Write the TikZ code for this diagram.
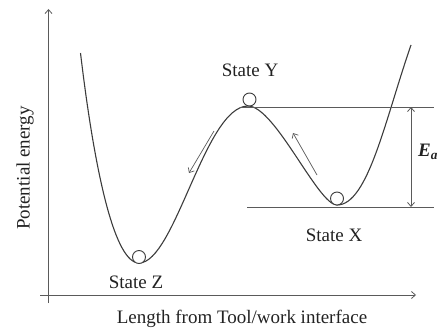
\documentclass[tikz,border=0pt]{standalone}
\usepackage{fontspec}
\setmainfont{Liberation Serif}
\usepackage{tikz}
\usetikzlibrary{arrows.meta}
\usepackage{xcolor}
\definecolor{ink}{HTML}{222222}
\definecolor{curve}{HTML}{3C3C3C}
\definecolor{rule}{HTML}{5A5A5A}

\begin{document}
\begin{tikzpicture}[x=1pt, y=-1pt, >={Straight Barb[length=4pt,width=7pt]},
    font=\fontsize{19}{22}\selectfont, text=ink,
    ball/.style={circle, draw=curve, fill=white, line width=0.9pt, minimum size=13pt, inner sep=0pt},
    lbl/.style={inner sep=0pt}]
        \useasboundingbox (0,0) rectangle (443,329);
        % axes
        \coordinate (o1) at (48.5,303); \coordinate (ytop) at (48.5,9);
        \coordinate (o2) at (40,295);   \coordinate (xend) at (416,295);
        \draw[rule, ->, line width=0.8pt] (o1)--(ytop);
        \draw[rule, ->, line width=0.8pt] (o2)--(xend);
        \node[lbl, rotate=90] (ylab) at (25,168){Potential energy};
        \node[lbl] (xlab) at (242,319){Length from Tool/work interface};
        % energy curve
        \coordinate (s) at (80.5,53); \coordinate (Z) at (139,263);
        \coordinate (Y) at (248,106); \coordinate (X) at (337,205);
        \coordinate (e) at (411,45);
        \draw[curve, line width=1.1pt] (s) .. controls (95,175) and (115,263) .. (Z)
            .. controls (175,263) and (205,106) .. (Y)
            .. controls (275,106) and (318,205) .. (X)
            .. controls (368,205) and (385,120) .. (e);
        % levels
        \coordinate (t1) at (240,107); \coordinate (t2) at (434,107);
        \coordinate (b1) at (247,207); \coordinate (b2) at (434,207);
        \draw[rule, line width=0.8pt] (t1)--(t2); \draw[rule, line width=0.8pt] (b1)--(b2);
        \coordinate (ea1) at (411,107); \coordinate (ea2) at (411,207);
        \draw[rule, <->, line width=0.8pt] (ea1)--(ea2);
        \node[lbl] (ea) at (428,152){\bfseries\itshape E\textsubscript{a}};
        % balls
        \node[ball] (bz) at (139,257){}; \node[ball] (by) at (249.5,99.5){}; \node[ball] (bx) at (337,198.5){};
        \node[lbl] (sy) at (250,70){State Y};
        \node[lbl] (sx) at (334,235){State X};
        \node[lbl] (sz) at (136,282){State Z};
        % motion arrows
        \coordinate (a1) at (214,131); \coordinate (a2) at (189,173);
        \coordinate (a3) at (317,175); \coordinate (a4) at (293,133);
        \draw[rule, ->, line width=0.7pt] (a1)--(a2);
        \draw[rule, ->, line width=0.7pt] (a3)--(a4);
      \end{tikzpicture}
\end{document}
